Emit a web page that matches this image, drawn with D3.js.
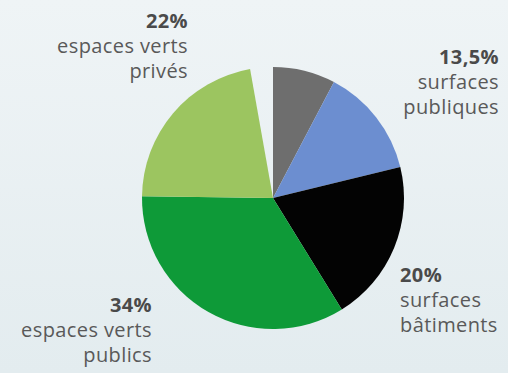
<!DOCTYPE html>
<html><head><meta charset="utf-8">
<script src="https://cdn.jsdelivr.net/npm/d3@7"></script>
<style>html,body{margin:0;padding:0;overflow:hidden}svg{display:block}</style>
</head><body>
<script>
const categories = ["autres", "surfaces publiques", "surfaces bâtiments", "espaces verts publics", "espaces verts privés", "vide"];
const values = [7.7, 13.5, 20, 34, 22, 2.8];
const colors = ["#6e6e6e", "#6c8ed0", "#030303", "#0e9a38", "#9cc560", "none"];
const labelPct = ["", "13,5%", "20%", "34%", "22%", ""];
const labelLines = [[], ["surfaces", "publiques"], ["surfaces", "bâtiments"], ["espaces verts", "publics"], ["espaces verts", "privés"], []];

const W = 508, H = 373;
const svg = d3.select("body").append("svg").attr("width", W).attr("height", H);
const defs = svg.append("defs");
const grad = defs.append("linearGradient").attr("id", "bg").attr("x1", 0).attr("y1", 0).attr("x2", 0).attr("y2", 1);
grad.append("stop").attr("offset", "0%").attr("stop-color", "#eff4f6");
grad.append("stop").attr("offset", "100%").attr("stop-color", "#e3ecef");
svg.append("rect").attr("width", W).attr("height", H).attr("fill", "url(#bg)");

const cx = 273, cy = 198, R = 131;
const pie = d3.pie().sort(null).value(d => d)(values);
const arc = d3.arc().innerRadius(0).outerRadius(R);
svg.append("g").attr("transform", `translate(${cx},${cy})`)
  .selectAll("path").data(pie).join("path")
  .attr("d", arc)
  .attr("fill", (d, i) => colors[i]);

// label layout: [anchor, x, first baseline]
const labelPos = {1: ["end", 499, 64], 2: ["start", 400, 282], 3: ["end", 152, 312], 4: ["end", 188, 28]};
const lh = 25;
const tg = svg.append("g").style("font-family", "'Open Sans', sans-serif").style("font-size", "20px").style("letter-spacing", "0.4px");
Object.keys(labelPos).forEach(k => {
  const i = +k;
  const [anchor, x, y] = labelPos[k];
  const t = tg.append("text").attr("text-anchor", anchor).attr("fill", "#595959");
  t.append("tspan").attr("x", x).attr("y", y).attr("font-weight", "bold").attr("fill", "#4a4a4a").text(labelPct[i]);
  labelLines[i].forEach((ln, j) => {
    t.append("tspan").attr("x", x).attr("y", y + lh * (j + 1)).text(ln);
  });
});
</script>
</body></html>
